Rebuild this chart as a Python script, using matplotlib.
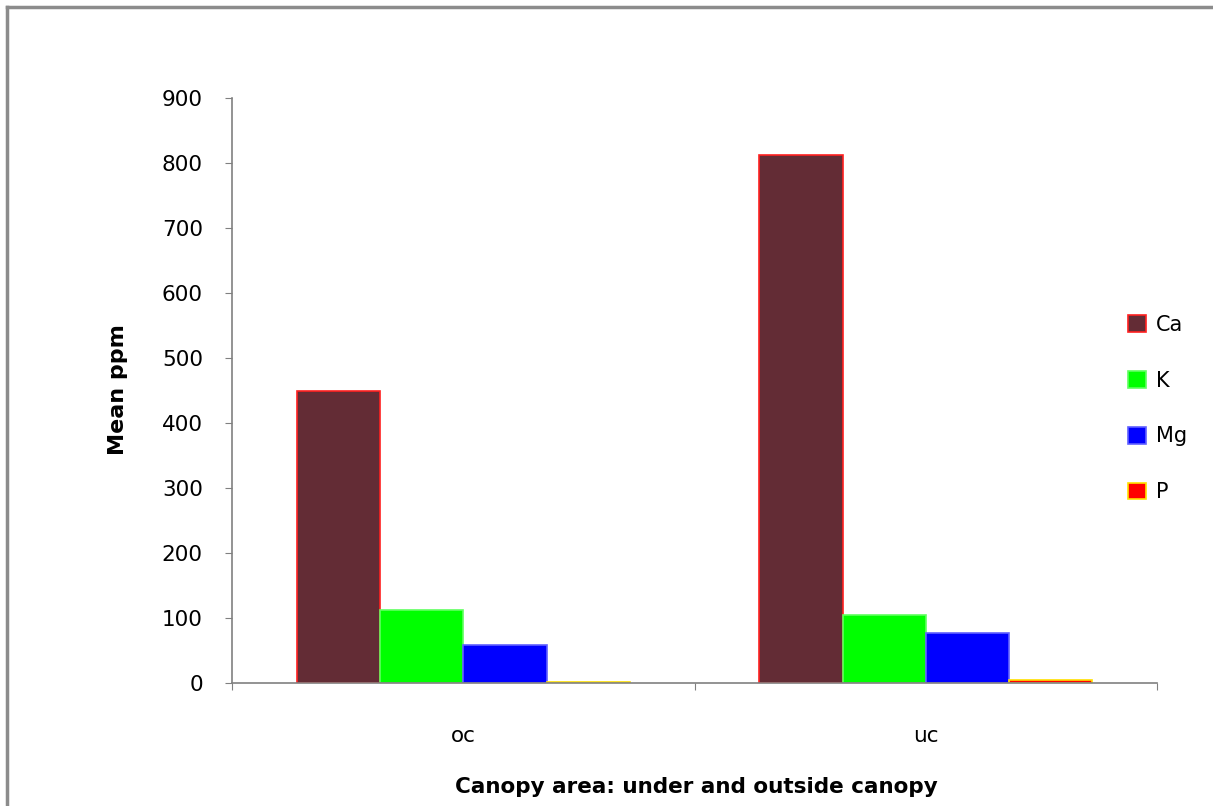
import numpy as np
import matplotlib.pyplot as plt
from matplotlib.lines import Line2D

categories = ['oc', 'uc']
elements = ['Ca', 'K', 'Mg', 'P']
ca = [449, 812]
k = [112, 105]
mg = [58, 77]
p = [1, 4]

fills = ['#632C35', '#00FF00', '#0000FF', '#FF0000']
edges = ['#FF2020', '#60FF60', '#6060FF', '#FFE000']

W, H = 1213, 806
fig = plt.figure(figsize=(W / 100, H / 100), dpi=100)
ax = fig.add_axes([232 / W, 123 / H, 925 / W, 585 / H])

x = np.arange(len(categories))
w = 0.18
series = [ca, k, mg, p]
for i, vals in enumerate(series):
    ax.bar(x - 0.36 + w * i, vals, width=w, align='edge', color=fills[i],
           edgecolor=edges[i], linewidth=1.2, label=elements[i])

ax.set_xlim(-0.5, 1.5)
ax.set_ylim(0, 900)
ax.set_yticks(range(0, 901, 100))
ax.set_xticks([-0.5, 0.5, 1.5])
ax.set_xticklabels([])
ax.set_xticks(x, minor=True)
ax.set_xticklabels(categories, minor=True)
ax.tick_params(axis='x', which='minor', length=0, pad=31, labelsize=15.5)
ax.tick_params(axis='x', which='major', length=5, color='#808080', direction='out')
ax.tick_params(axis='y', length=5, color='#808080', labelsize=15.5, pad=16)

for side in ['top', 'right']:
    ax.spines[side].set_visible(False)
for side in ['left', 'bottom']:
    ax.spines[side].set_color('#808080')
    ax.spines[side].set_linewidth(1.2)

fig.text(118 / W, 1 - 390 / H, 'Mean ppm', rotation=90, fontsize=16,
         fontweight='bold', ha='center', va='center')
fig.text(696 / W, 1 - 787 / H, 'Canopy area: under and outside canopy',
         fontsize=15.5, fontweight='bold', ha='center', va='center')

fig.legend(loc='center left', bbox_to_anchor=(1109 / W, 1 - 408.5 / H),
           bbox_transform=fig.transFigure, frameon=False, fontsize=15,
           handlelength=0.87, handleheight=0.87, labelspacing=1.72,
           handletextpad=0.48)

# outer chart border
fig.add_artist(Line2D([7 / W, 1], [1 - 7 / H] * 2, color='#8C8C8C', lw=2.5))
fig.add_artist(Line2D([7 / W] * 2, [0, 1 - 7 / H], color='#8C8C8C', lw=2.5))

fig.savefig('out.png', dpi=100)
